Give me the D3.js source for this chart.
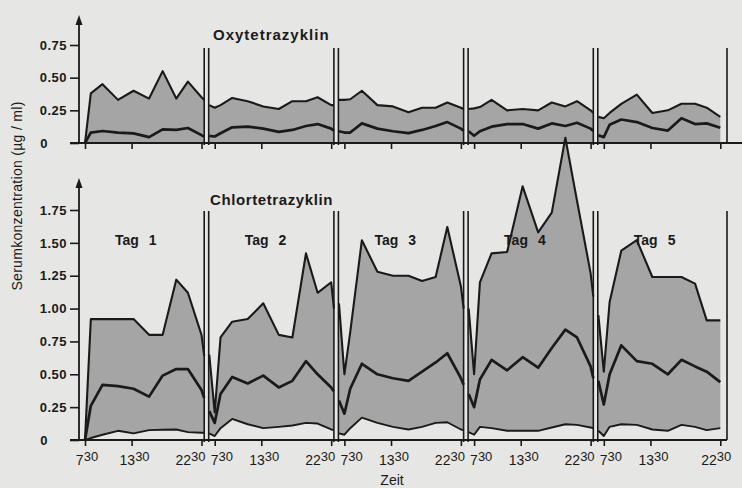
<!DOCTYPE html>
<html>
<head>
<meta charset="utf-8">
<script src="https://cdn.jsdelivr.net/npm/d3@7"></script>
<style>
  body { margin: 0; background: #e6e6e4; }
  svg { display: block; font-family: 'Liberation Sans', Arial, sans-serif; }
</style>
</head>
<body>
<script>
// sample times of one day (hours), same for every series
var hours = [6.8, 7.5, 8.25, 9.75, 11.75, 13.75, 15.75, 17.5, 19.25, 20.75, 22.5, 22.85];
var days = ['Tag 1', 'Tag 2', 'Tag 3', 'Tag 4', 'Tag 5'];

// Oxytetrazyklin (ug/ml), one row per day
var oxyUpper = [
  [null, 0, 0.38, 0.45, 0.33, 0.40, 0.34, 0.55, 0.34, 0.47, 0.35, 0.33],
  [0.29, 0.27, 0.29, 0.345, 0.32, 0.28, 0.26, 0.32, 0.32, 0.35, 0.29, 0.29],
  [0.33, 0.33, 0.335, 0.40, 0.29, 0.28, 0.235, 0.27, 0.27, 0.31, 0.27, 0.26],
  [0.26, 0.265, 0.275, 0.33, 0.25, 0.26, 0.25, 0.31, 0.28, 0.32, 0.25, 0.23],
  [0.20, 0.19, 0.23, 0.30, 0.37, 0.23, 0.25, 0.30, 0.30, 0.27, 0.20, null]
];
var oxyMean = [
  [null, 0, 0.08, 0.092, 0.08, 0.074, 0.045, 0.104, 0.10, 0.115, 0.06, 0.05],
  [0.055, 0.05, 0.075, 0.12, 0.125, 0.11, 0.085, 0.10, 0.13, 0.145, 0.11, 0.094],
  [0.09, 0.08, 0.08, 0.15, 0.11, 0.09, 0.076, 0.10, 0.13, 0.16, 0.11, 0.094],
  [0.09, 0.055, 0.09, 0.125, 0.145, 0.145, 0.11, 0.15, 0.13, 0.155, 0.11, 0.092],
  [0.06, 0.045, 0.14, 0.18, 0.16, 0.115, 0.095, 0.19, 0.145, 0.15, 0.117, null]
];

// Chlortetrazyklin (ug/ml)
var chlorUpper = [
  [null, 0, 0.92, 0.92, 0.92, 0.92, 0.80, 0.80, 1.22, 1.12, 0.80, 0.64],
  [0.65, 0.21, 0.78, 0.90, 0.92, 1.04, 0.80, 0.78, 1.42, 1.12, 1.20, 1.0],
  [1.04, 0.50, 0.82, 1.52, 1.28, 1.25, 1.25, 1.21, 1.24, 1.62, 1.17, 1.0],
  [1.0, 0.50, 1.2, 1.42, 1.43, 1.93, 1.58, 1.73, 2.30, 1.82, 1.27, 1.09],
  [0.95, 0.52, 1.05, 1.44, 1.52, 1.24, 1.24, 1.24, 1.19, 0.91, 0.91, null]
];
var chlorMean = [
  [null, 0, 0.26, 0.42, 0.41, 0.39, 0.33, 0.49, 0.54, 0.54, 0.38, 0.32],
  [0.22, 0.13, 0.35, 0.48, 0.43, 0.49, 0.40, 0.45, 0.60, 0.50, 0.40, 0.37],
  [0.30, 0.20, 0.39, 0.58, 0.50, 0.47, 0.45, 0.52, 0.59, 0.66, 0.47, 0.42],
  [0.35, 0.25, 0.46, 0.61, 0.53, 0.63, 0.55, 0.70, 0.84, 0.78, 0.56, 0.47],
  [0.45, 0.27, 0.50, 0.72, 0.60, 0.58, 0.50, 0.61, 0.56, 0.52, 0.44, null]
];
var chlorLower = [
  [null, 0, 0.015, 0.04, 0.07, 0.05, 0.075, 0.078, 0.08, 0.06, 0.055, 0.055],
  [0.05, 0.03, 0.09, 0.16, 0.12, 0.09, 0.10, 0.11, 0.13, 0.125, 0.08, 0.075],
  [0.05, 0.04, 0.09, 0.17, 0.13, 0.10, 0.08, 0.10, 0.13, 0.135, 0.08, 0.075],
  [0.06, 0.04, 0.10, 0.09, 0.07, 0.07, 0.07, 0.095, 0.12, 0.115, 0.095, 0.09],
  [0.07, 0.03, 0.10, 0.12, 0.115, 0.08, 0.07, 0.115, 0.10, 0.075, 0.09, null]
];

var oxyTicks = [0, 0.25, 0.5, 0.75];
var chlorTicks = [0, 0.25, 0.5, 0.75, 1.0, 1.25, 1.5, 1.75];
var timeTicks = [7.5, 13.5, 22.5];
var timeMain = ['7', '13', '22'];
var timeSup = '30';

var width = 742,
    height = 488,
    ink = '#1a1a1a',
    fillColor = '#a5a5a5';

var svg = d3.select('body')
  .append('svg')
    .attr('width', width)
    .attr('height', height);

var xDay = d3.scaleBand()
  .domain(days)
  .range([79, 727.5]);

var xHour = d3.scaleLinear()
  .domain([7.5, 22.5])
  .range([6, 122.5]);

var panels = [
  { title: 'Oxytetrazyklin', upper: oxyUpper, mean: oxyMean, lower: null, ticks: oxyTicks, spacing: 1,
    domain: [0, 0.75], range: [143, 45], top: 48, arrowTop: 15, rightEnd: 742, titleX: 213, titleY: 40 },
  { title: 'Chlortetrazyklin', upper: chlorUpper, mean: chlorMean, lower: chlorLower, ticks: chlorTicks, spacing: 0.6,
    domain: [0, 1.75], range: [440, 210], top: 211, arrowTop: 178, rightEnd: 727, titleX: 210, titleY: 205 }
];

panels.forEach(function(p, pi) {
  var y = d3.scaleLinear().domain(p.domain).range(p.range);
  var g = svg.append('g');

  days.forEach(function(day, di) {
    var rows = hours.map(function(h, i) {
      return { h: h, hi: p.upper[di][i], mid: p.mean[di][i], lo: p.lower ? p.lower[di][i] : 0 };
    });
    var px = function(d) { return xDay(day) + xHour(d.h); };

    var area = d3.area()
      .defined(function(d) { return d.hi != null; })
      .x(px)
      .y0(function(d) { return y(d.lo); })
      .y1(function(d) { return y(d.hi); });

    var line = function(key) {
      return d3.line()
        .defined(function(d) { return d[key] != null; })
        .x(px)
        .y(function(d) { return y(d[key]); });
    };

    g.append('path').datum(rows)
      .attr('d', area)
      .attr('fill', fillColor);

    g.append('path').datum(rows)
      .attr('d', line('hi'))
      .attr('fill', 'none').attr('stroke', ink).attr('stroke-width', 2.1)
      .attr('stroke-linejoin', 'round');

    g.append('path').datum(rows)
      .attr('d', line('mid'))
      .attr('fill', 'none').attr('stroke', ink).attr('stroke-width', 2.7)
      .attr('stroke-linejoin', 'round');

    if (p.lower) {
      g.append('path').datum(rows)
        .attr('d', line('lo'))
        .attr('fill', 'none').attr('stroke', ink).attr('stroke-width', 1.9)
        .attr('stroke-linejoin', 'round');
    }

    // time ticks under each day
    var dayScale = d3.scaleLinear()
      .domain(xHour.domain())
      .range(xHour.range().map(function(r) { return r + xDay(day); }));

    var xAxis = g.append('g')
      .attr('transform', 'translate(0,' + y(0) + ')')
      .call(d3.axisBottom(dayScale).tickValues(timeTicks).tickSize(6).tickFormat(''));
    xAxis.select('.domain').remove();
    xAxis.selectAll('line').attr('stroke', ink).attr('stroke-width', 1.6);

    // double separator lines between days
    if (di > 0) {
      [xDay(day) - 4.5, xDay(day)].forEach(function(sx) {
        g.append('line')
          .attr('x1', sx).attr('x2', sx)
          .attr('y1', p.top).attr('y2', y(0) + 2)
          .attr('stroke', ink).attr('stroke-width', 1.6);
      });
    }

    if (pi === 1) {
      // Tag label
      var tag = g.append('text')
        .attr('x', xDay(day) + 36)
        .attr('y', 245)
        .attr('fill', ink)
        .style('font-size', '14px')
        .style('font-weight', 'bold')
        .text('Tag');
      tag.append('tspan').attr('dx', 10).text(day.split(' ')[1]);

      // time labels with superscript minutes
      timeTicks.forEach(function(t, ti) {
        var tx = dayScale(t), anchor = 'middle';
        if (ti === 0) { anchor = di === 0 ? 'middle' : 'start'; tx = di === 0 ? tx + 2 : tx - 4; }
        if (ti === 1) { tx = tx + 3; }
        if (ti === 2) { anchor = di === days.length - 1 ? 'middle' : 'end'; tx = di === days.length - 1 ? tx - 4 : tx + 4; }
        var lab = g.append('text')
          .attr('x', tx)
          .attr('y', 465)
          .attr('text-anchor', anchor)
          .attr('fill', ink)
          .style('font-size', '14px')
          .text(timeMain[ti]);
        lab.append('tspan').attr('dy', -4).style('font-size', '13px').text(timeSup);
      });
    }
  });

  // right border line
  g.append('line')
    .attr('x1', 727).attr('x2', 727)
    .attr('y1', p.top).attr('y2', y(0))
    .attr('stroke', ink).attr('stroke-width', 1.6);

  // baseline
  g.append('line')
    .attr('x1', 70).attr('x2', p.rightEnd)
    .attr('y1', y(0)).attr('y2', y(0))
    .attr('stroke', ink).attr('stroke-width', 1.8);

  // y axis with arrow
  g.append('line')
    .attr('x1', 79).attr('x2', 79)
    .attr('y1', y(0)).attr('y2', p.arrowTop + 6)
    .attr('stroke', ink).attr('stroke-width', 1.8);
  g.append('path')
    .attr('d', 'M79,' + p.arrowTop + 'L75.5,' + (p.arrowTop + 10) + 'L82.5,' + (p.arrowTop + 10) + 'Z')
    .attr('fill', ink);

  var yAxis = g.append('g')
    .attr('transform', 'translate(79,0)')
    .call(d3.axisLeft(y)
      .tickValues(p.ticks)
      .tickSize(9)
      .tickPadding(3)
      .tickFormat(function(d) { return d === 0 ? '0' : d3.format('.2f')(d); }));
  yAxis.select('.domain').remove();
  yAxis.selectAll('line').attr('stroke', ink).attr('stroke-width', 1.6);
  yAxis.selectAll('text')
    .attr('fill', ink)
    .style('font-family', "'Liberation Sans', Arial, sans-serif")
    .style('font-size', '13px')
    .style('font-weight', 'bold')
    .style('letter-spacing', '0.5px');
  yAxis.selectAll('text')
    .filter(function(d) { return d === 0; })
    .attr('x', -35)
    .attr('text-anchor', 'middle');

  // panel title
  g.append('text')
    .attr('x', p.titleX)
    .attr('y', p.titleY)
    .attr('fill', ink)
    .style('font-size', '15px')
    .style('font-weight', 'bold')
    .style('letter-spacing', p.spacing + 'px')
    .text(p.title);
});

svg.append('text')
  .attr('x', 392)
  .attr('y', 485)
  .attr('text-anchor', 'middle')
  .attr('fill', ink)
  .style('font-size', '14px')
  .text('Zeit');

svg.append('text')
  .attr('transform', 'translate(22,196) rotate(-90)')
  .attr('text-anchor', 'middle')
  .attr('fill', ink)
  .style('font-size', '14px')
  .style('letter-spacing', '0.3px')
  .text('Serumkonzentration (µg / ml)');
</script>
</body>
</html>
